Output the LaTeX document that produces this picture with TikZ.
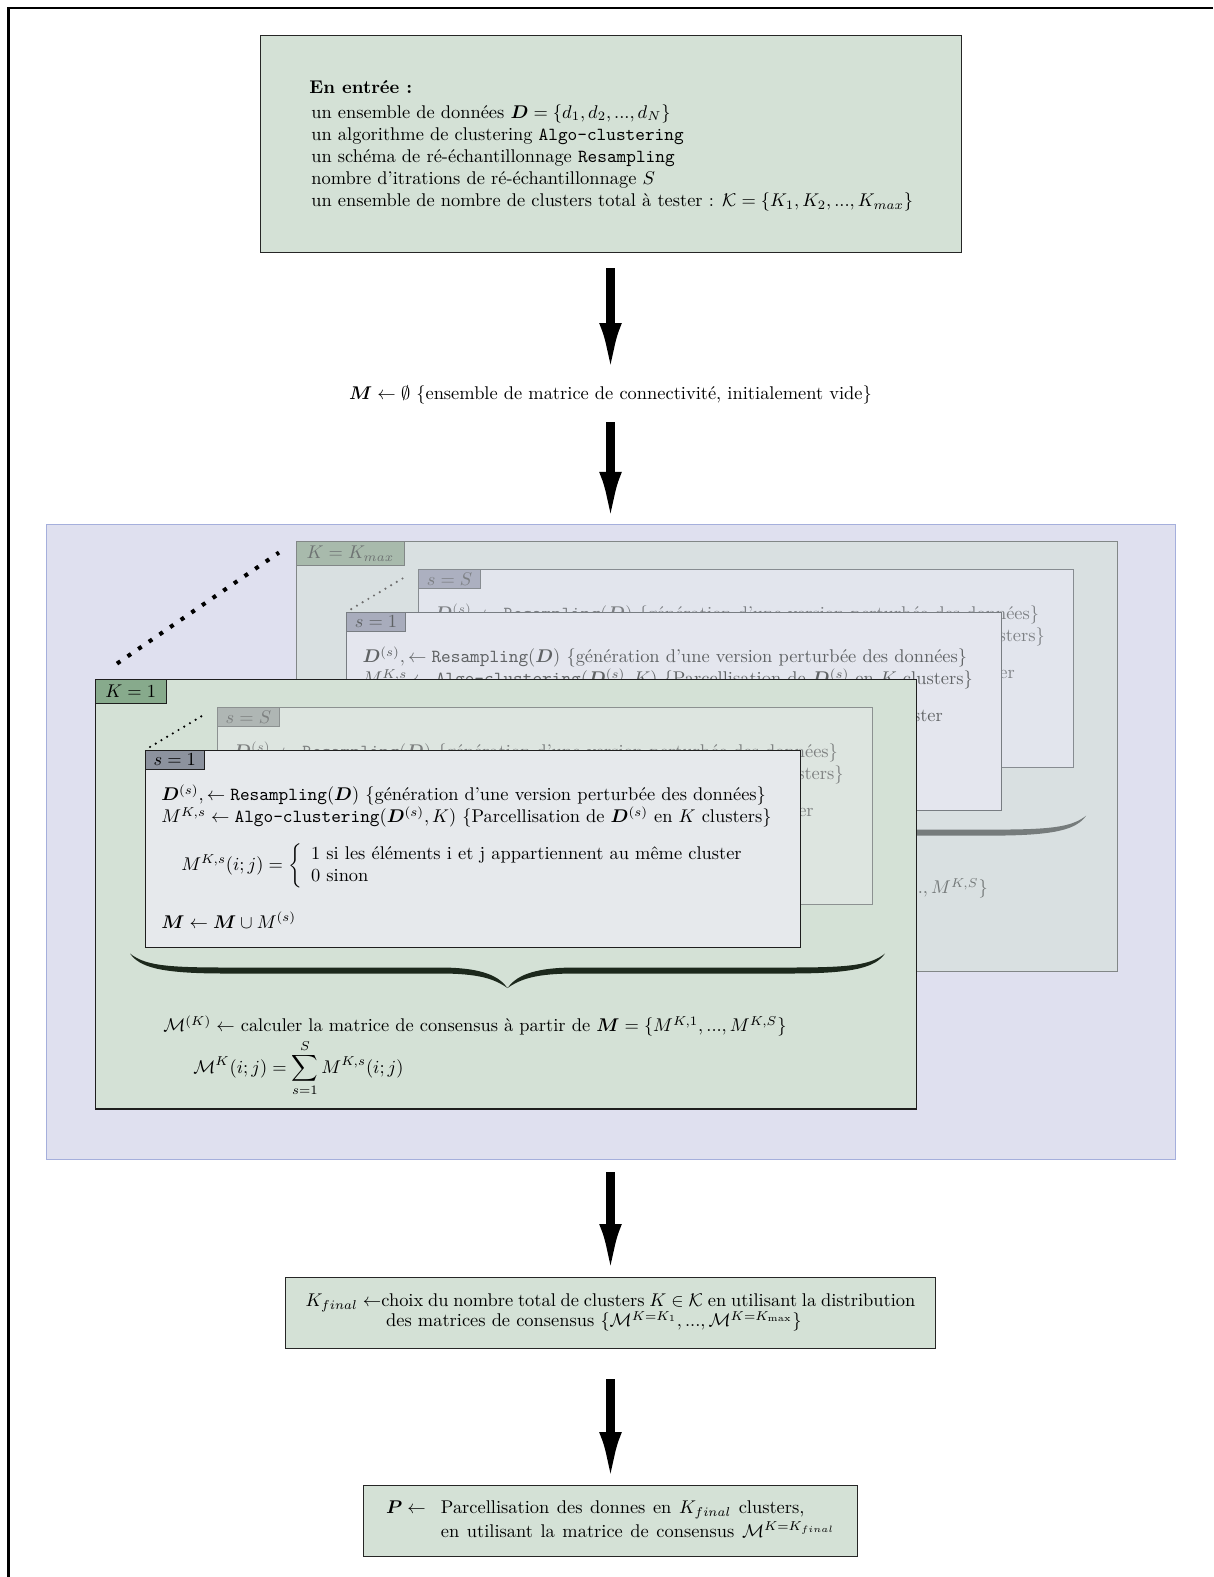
\documentclass[tikz,border=0pt]{standalone}
\usepackage{fontspec}
\usepackage{amsmath,amssymb}
\usepackage{bm}
\usetikzlibrary{arrows.meta}

\definecolor{boxgreen}{RGB}{212,225,214}
\definecolor{bgblue}{RGB}{223,224,239}
\definecolor{bgblueborder}{RGB}{165,175,220}
% K=1 block
\definecolor{Konefill}{RGB}{212,225,214}
\definecolor{Konedraw}{RGB}{30,30,30}
\definecolor{Konelab}{RGB}{135,170,140}
\definecolor{Konelabtext}{RGB}{0,0,0}
\definecolor{Konetext}{RGB}{0,0,0}
\definecolor{Konebrace}{RGB}{28,40,28}
\definecolor{Konedot}{RGB}{0,0,0}
\definecolor{KoneOfill}{RGB}{230,233,236}
\definecolor{KoneOdraw}{RGB}{30,30,30}
\definecolor{KoneOlab}{RGB}{140,146,158}
\definecolor{KoneOtext}{RGB}{0,0,0}
\definecolor{KoneSfill}{RGB}{221,229,224}
\definecolor{KoneSdraw}{RGB}{140,145,145}
\definecolor{KoneSlab}{RGB}{175,182,180}
\definecolor{KoneStext}{RGB}{125,128,128}
% K=Kmax block
\definecolor{Kmaxfill}{RGB}{217,224,225}
\definecolor{Kmaxdraw}{RGB}{130,135,135}
\definecolor{Kmaxlab}{RGB}{168,186,172}
\definecolor{Kmaxlabtext}{RGB}{110,115,115}
\definecolor{Kmaxtext}{RGB}{115,120,120}
\definecolor{Kmaxbrace}{RGB}{118,124,124}
\definecolor{Kmaxdot}{RGB}{110,110,110}
\definecolor{KmaxOfill}{RGB}{228,230,238}
\definecolor{KmaxOdraw}{RGB}{120,125,130}
\definecolor{KmaxOlab}{RGB}{168,172,188}
\definecolor{KmaxOtext}{RGB}{95,98,100}
\definecolor{KmaxSfill}{RGB}{226,229,237}
\definecolor{KmaxSdraw}{RGB}{135,140,145}
\definecolor{KmaxSlab}{RGB}{172,176,192}
\definecolor{KmaxStext}{RGB}{125,128,132}

\tikzset{
  sboxshape/.style={anchor=north west, minimum width=355.4pt, minimum height=107.2pt, inner sep=0pt, line width=0.5pt},
  slabel/.style={anchor=north west, minimum height=10.3pt, inner xsep=4.4pt, inner ysep=0pt, line width=0.5pt},
  kboxshape/.style={anchor=north west, minimum width=445.8pt, minimum height=233.2pt, inner sep=0pt, line width=0.6pt},
  klabel/.style={anchor=north west, minimum height=13pt, inner xsep=5.6pt, inner ysep=0pt, line width=0.6pt},
  txt/.style={anchor=west, inner sep=0pt},
  flowbox/.style={fill=boxgreen, draw=black!85, line width=0.5pt, inner sep=0pt},
  bigarrow/.style={line width=4.5pt, -{Latex[length=28pt,width=12pt]}},
}

\newcommand\SBlock[4]{%
  \begin{scope}[shift={#2}]
    \node[sboxshape, fill=#4fill, draw=#4draw] (#1) at (0,0) {};
    \node[slabel, fill=#4lab, draw=#4draw, text=#4text] (#1lab) at (#1.north west) {$#3$};
    \node[txt, text=#4text] (#1a) at (16,45) {$\boldsymbol{D}^{(s)}, \leftarrow \texttt{Resampling}(\boldsymbol{D})$ \{génération d'une version perturbée des données\}};
    \node[txt, text=#4text] (#1b) at (16,67) {$M^{K,s} \leftarrow \texttt{Algo-clustering}(\boldsymbol{D}^{(s)},K)$ \{Parcellisation de $\boldsymbol{D}^{(s)}$ en $K$ clusters\}};
    \node[txt, text=#4text] (#1c) at (36,116) {$M^{K,s}(i;j) = \left\{\begin{array}{l}\text{1 si les éléments i et j appartiennent au même cluster}\\ \text{0 sinon}\end{array}\right.$};
    \node[txt, text=#4text] (#1d) at (16,170) {$\boldsymbol{M} \leftarrow \boldsymbol{M} \cup M^{(s)}$};
  \end{scope}}

% brace drawn as a filled calligraphic shape, local origin = left end
\newcommand\BraceShape[1]{%
  \fill[#1] (0,0) .. controls (14.5,11.5) and (34.5,14) .. (94.5,14) -- (309.5,14)
    .. controls (354.5,14) and (369.5,23.5) .. (377.5,34.5)
    .. controls (385.5,23.5) and (400.5,14) .. (445.5,14) -- (660.5,14)
    .. controls (720.5,14) and (740.5,11.5) .. (755,0)
    .. controls (745.5,13.5) and (725.5,20) .. (660.5,20) -- (445.5,20)
    .. controls (405.5,20) and (390.5,25.5) .. (377.5,34.5)
    .. controls (364.5,25.5) and (349.5,20) .. (309.5,20) -- (94.5,20)
    .. controls (29.5,20) and (9.5,13.5) .. (0,0) -- cycle;}

\newcommand\KBlock[3]{%
  \begin{scope}[shift={#2}]
    \node[kboxshape, fill=#1fill, draw=#1draw] (#1) at (0,0) {};
    \node[klabel, fill=#1lab, draw=#1draw, text=#1labtext] (#1lab) at (#1.north west) {$#3$};
    \SBlock{#1S}{(122.5,28)}{s=S}{#1S}
    \SBlock{#1O}{(50.5,71)}{s=1}{#1O}
    \draw[#1dot, line width=1.3pt, line cap=round, dash pattern=on 0pt off 3.6pt, shorten <=3.2pt, shorten >=7pt] (#1O.north west) -- (#1S.north west);
    \coordinate (#1bl) at (35.5,274.5);
    \begin{scope}[shift={(35.5,274.5)}]
      \BraceShape{#1brace}
    \end{scope}
    \node[txt, text=#1text] (#1cons) at (68.5,347) {$\mathcal{M}^{(K)} \leftarrow$ calculer la matrice de consensus à partir de $\boldsymbol{M}=\{M^{K,1},...,M^{K,S}\}$};
    \node[txt, text=#1text] (#1sum) at (98.5,389) {$\displaystyle \mathcal{M}^{K}(i;j) = \sum_{s=1}^{S} M^{K,s}(i;j)$};
  \end{scope}}

\begin{document}
\begin{tikzpicture}[x=0.543pt, y=-0.543pt]
\useasboundingbox (0,0) rectangle (1213,1577);
\fill[white] (0,0) rectangle (1213,1577);
% outer frame
\draw[line width=1.2pt] (8.5,1577) -- (8.5,7.8) -- (1213,7.8);

% input box
\node[flowbox, minimum width=380.6pt, minimum height=118.1pt] (inbox) at (610.5,143.75) {};
\node[txt] (intitle) at (309,87) {\textbf{En entrée :}};
\node[txt, align=left] (inlines) at (311,157.8) {un ensemble de données $\boldsymbol{D}=\{d_1,d_2,...,d_N\}$\\
un algorithme de clustering \texttt{Algo-clustering}\\
un schéma de ré-échantillonnage \texttt{Resampling}\\
nombre d'itrations de ré-échantillonnage $S$\\
un ensemble de nombre de clusters total à tester : $\mathcal{K}=\{K_1,K_2,...,K_{max}\}$};

% M init
\node[inner sep=0pt, minimum height=21.7pt] (mtext) at (610.5,395) {$\boldsymbol{M} \leftarrow \emptyset$ \{ensemble de matrice de connectivité, initialement vide\}};

% blue background
\node[fill=bgblue, draw=bgblueborder, line width=0.5pt, minimum width=613pt, minimum height=344.8pt, inner sep=0pt] (blue) at (610.5,841.5) {};

% K blocks
\KBlock{Kmax}{(295.7,541.1)}{K=K_{max}}
\KBlock{Kone}{(94.5,679)}{K=1}
\draw[line width=2.2pt, dash pattern=on 2.2pt off 4.8pt, shorten <=14.8pt, shorten >=11pt] (Kone.north west) -- (Kmax.north west);

% Kfinal
\node[flowbox, minimum width=353.4pt, minimum height=38.6pt, align=center] (kfinal) at (610.5,1312.5) {\spaceskip=2.6pt plus 1pt $K_{final} \leftarrow$choix du nombre total de clusters $K\in\mathcal{K}$ en utilisant la distribution\\[-1pt] des matrices de consensus $\{\mathcal{M}^{K=K_1},...,\mathcal{M}^{K=K_{\max}}\}$\hspace*{18pt}};

% P box
\node[flowbox, minimum width=268.2pt, minimum height=38.2pt] (pbox) at (610.5,1520.8) {\spaceskip=4.1pt plus 1pt\begin{tabular}{@{}l@{\ \ }l@{}}$\boldsymbol{P}\leftarrow$ & Parcellisation des donnes en $K_{final}$ clusters,\\[1pt] & en utilisant la matrice de consensus $\mathcal{M}^{K=K_{final}}$\end{tabular}};

% arrows
\draw[bigarrow, shorten <=8.4pt, shorten >=0pt] (inbox.south) -- (mtext.north);
\draw[bigarrow, shorten <=3.8pt, shorten >=0pt] (mtext.south) -- (blue.north);
\draw[bigarrow, shorten <=7pt, shorten >=0.5pt] (blue.south) -- (kfinal.north);
\draw[bigarrow, shorten <=16.8pt, shorten >=0.8pt] (kfinal.south) -- (pbox.north);
\end{tikzpicture}
\end{document}
